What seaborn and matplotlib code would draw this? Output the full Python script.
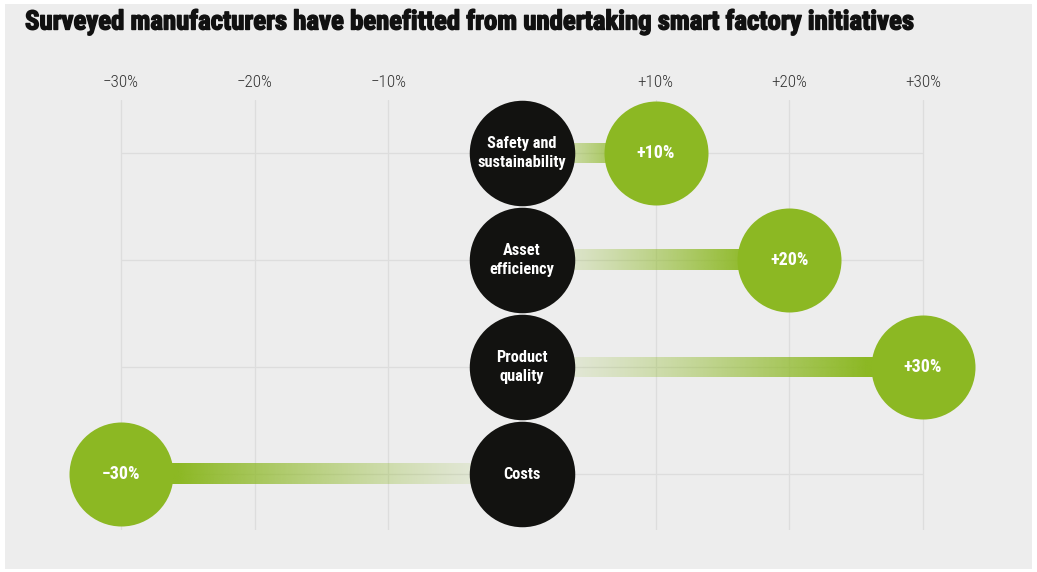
import os
import numpy as np
import pandas as pd
import matplotlib
matplotlib.use("Agg")
import matplotlib.pyplot as plt
import matplotlib.patheffects as pe
import seaborn as sns
from matplotlib import font_manager
from matplotlib.font_manager import FontProperties
from matplotlib.patches import Rectangle
from matplotlib.colors import to_rgb

categories = ["Safety and\nsustainability", "Asset\nefficiency", "Product\nquality", "Costs"]
values = [10, 20, 30, -30]
value_labels = ["+10%", "+20%", "+30%", "\u221230%"]
tick_values = [-30, -20, -10, 10, 20, 30]
tick_labels = ["\u221230%", "\u221220%", "\u221210%", "+10%", "+20%", "+30%"]
title = "Surveyed manufacturers have benefitted from undertaking smart factory initiatives"

sns.set_theme(style="white")
plt.rcParams['font.family'] = ['DejaVu Sans']


def find_font(patterns):
    files = [f.fname for f in font_manager.fontManager.ttflist]
    for p in patterns:
        for fn in files:
            if os.path.basename(fn).lower().startswith(p.lower()):
                return fn
    return None


def fp(patterns, fallback_weight="bold"):
    fn = find_font(patterns)
    if fn:
        return FontProperties(fname=fn)
    return FontProperties(family="DejaVu Sans", weight=fallback_weight)


title_fp = fp(["RobotoCondensed-Black", "RobotoCondensed-ExtraBold", "RobotoCondensed-Bold",
               "LiberationSansNarrow-Bold.", "DejaVuSansCondensed-Bold.", "Roboto-Black",
               "Roboto-Bold", "LiberationSans-Bold."])
label_fp = fp(["RobotoCondensed-Bold", "LiberationSansNarrow-Bold.",
               "DejaVuSansCondensed-Bold.", "Roboto-Bold", "LiberationSans-Bold."])
tick_fp = fp(["RobotoCondensed-Light", "RobotoCondensed-Regular", "LiberationSansNarrow-Regular",
              "Roboto-Light", "DejaVuSansCondensed.", "Roboto-Regular"], "normal")

GREEN = "#8cb823"
BLACK = "#121210"
BG = "#ededed"
GRID = "#dddddd"

W, H = 1037, 572
fig = plt.figure(figsize=(W / 100, H / 100), dpi=100, facecolor="white")
fig.patches.append(Rectangle((5 / W, 3 / H), (1032 - 5) / W, (569 - 4) / H,
                             transform=fig.transFigure, facecolor=BG,
                             edgecolor='none', zorder=-10))
renderer = fig.canvas.get_renderer()


def fit_size(text, props, target_px, base=12.0):
    t = fig.text(0, 0, text, fontproperties=props, fontsize=base)
    w = t.get_window_extent(renderer=renderer).width
    t.remove()
    return base * target_px / w


ax_top, ax_bot = 100, 530
ax = fig.add_axes([0, 1 - ax_bot / H, 1, (ax_bot - ax_top) / H])
ax.set_facecolor('none')
for s in ax.spines.values():
    s.set_visible(False)

px_per_unit = (923 - 121) / 60.0
x0_px = 522
xlim = (-x0_px / px_per_unit, (W - x0_px) / px_per_unit)
row0_px, row_step = 153, 107.1
ylim = ((ax_bot - row0_px) / row_step, (ax_top - row0_px) / row_step)

df = pd.DataFrame({"category": categories, "value": values,
                   "label": value_labels})
df["row"] = np.arange(len(df))
df["zero"] = 0

# grid
for t in tick_values:
    ax.axvline(t, color=GRID, lw=0.9, zorder=0)
ax.hlines(df["row"], min(tick_values), max(tick_values), color=GRID, lw=0.9, zorder=0)

# gradient bars
g = np.array(to_rgb(GREEN))
n = 400
tt = np.linspace(0, 1, n)
alpha = 0.04 + 0.96 * np.clip(tt / 0.86, 0, 1) ** 1.3
img = np.zeros((1, n, 4))
img[0, :, :3] = g
img[0, :, 3] = alpha
half = 10.0 / row_step
for _, r in df.iterrows():
    ax.imshow(img, extent=[0, r["value"], r["row"] + half, r["row"] - half],
              aspect='auto', interpolation='bilinear', zorder=2)

# circles
sns.scatterplot(data=df, x="zero", y="row", s=(105.5 * 0.72) ** 2, color=BLACK,
                linewidth=0, ax=ax, legend=False, zorder=4, clip_on=False)
sns.scatterplot(data=df, x="value", y="row", s=(104 * 0.72) ** 2, color=GREEN,
                linewidth=0, ax=ax, legend=False, zorder=4, clip_on=False)

cat_size = fit_size("sustainability", label_fp, 88)
val_size = fit_size("+30%", label_fp, 38)
for _, r in df.iterrows():
    ax.text(0, r["row"], r["category"], color="white", fontproperties=label_fp,
            fontsize=cat_size, ha="center", va="center", linespacing=1.3, zorder=5)
    ax.text(r["value"], r["row"], r["label"], color="white", fontproperties=label_fp,
            fontsize=val_size, ha="center", va="center", zorder=5)

ax.set_xlim(*xlim)
ax.set_ylim(*ylim)
ax.set_xticks(tick_values)
tick_size = fit_size("\u221230%", tick_fp, 36)
ax.set_xticklabels(tick_labels, fontproperties=tick_fp, fontsize=tick_size, color="#333333")
ax.set_yticks([])
ax.set_xlabel("")
ax.set_ylabel("")
ax.tick_params(axis='x', top=True, labeltop=True, bottom=False, labelbottom=False,
               length=0, pad=7)

title_size = fit_size(title, title_fp, 890)
fig.text(25 / W, 1 - 22 / H, title, fontproperties=title_fp, fontsize=title_size,
         color="#111111", ha="left", va="center",
         path_effects=[pe.withStroke(linewidth=1.0, foreground="#111111")])

fig.savefig("out.png", dpi=100, facecolor=fig.get_facecolor())
